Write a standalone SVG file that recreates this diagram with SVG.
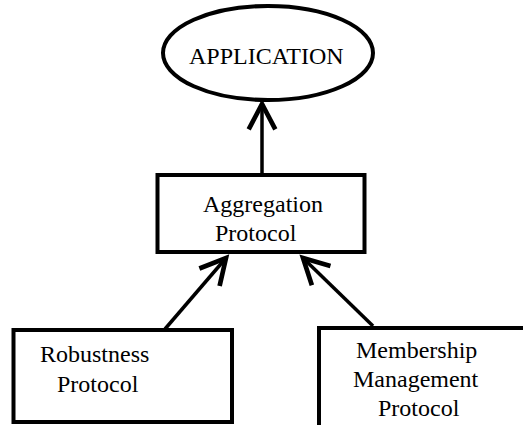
<svg xmlns="http://www.w3.org/2000/svg" width="523" height="425" viewBox="0 0 523 425">
<style>
.shape{fill:#fff;stroke:#000;stroke-width:4}
.conn{fill:none;stroke:#000;stroke-width:3.5}
text{font-family:'Liberation Serif','DejaVu Serif',serif;font-size:24px;fill:#000}
</style>
<defs>
<marker id="arr" markerUnits="userSpaceOnUse" markerWidth="40" markerHeight="40" viewBox="-25 -15 30 30" refX="0" refY="0" orient="auto">
<path d="M-19,-10 L0,0 L-19,10" fill="none" stroke="#000" stroke-width="3.5"/>
</marker>
</defs>
<g id="application">
<ellipse class="shape" cx="268" cy="53" rx="105" ry="47"/>
<text x="189" y="64" font-family="Liberation Serif, serif">APPLICATION</text>
</g>
<g id="aggregation">
<rect class="shape" x="157.5" y="175" width="207" height="77"/>
<text x="203" y="212" font-family="Liberation Serif, serif">Aggregation</text>
<text x="215" y="241" font-family="Liberation Serif, serif">Protocol</text>
</g>
<g id="robustness">
<rect class="shape" x="13.5" y="330" width="218.5" height="92"/>
<text x="40" y="362" font-family="Liberation Serif, serif">Robustness</text>
<text x="57" y="392" font-family="Liberation Serif, serif">Protocol</text>
</g>
<g id="membership">
<rect class="shape" x="319" y="328" width="250" height="150"/>
<text x="356" y="358" font-family="Liberation Serif, serif">Membership</text>
<text x="353" y="387" font-family="Liberation Serif, serif">Management</text>
<text x="378" y="416" font-family="Liberation Serif, serif">Protocol</text>
</g>
<g id="connectors">
<line class="conn" x1="262" y1="175" x2="262" y2="104" marker-end="url(#arr)"/>
<line class="conn" x1="165" y1="329" x2="226" y2="258" marker-end="url(#arr)"/>
<line class="conn" x1="373" y1="326" x2="303" y2="258" marker-end="url(#arr)"/>
</g>
</svg>
